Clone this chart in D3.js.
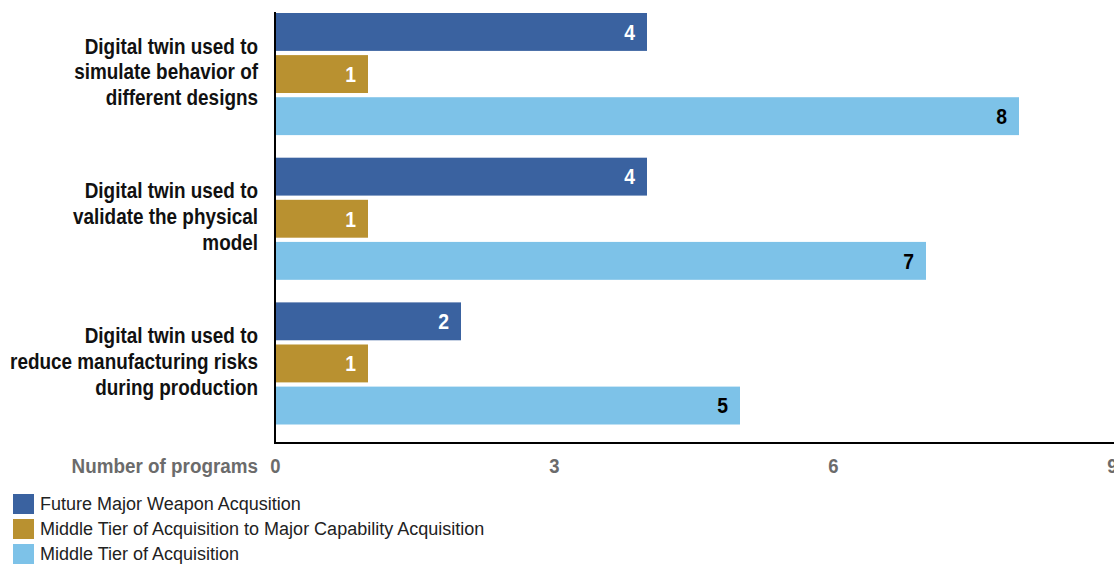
<!DOCTYPE html>
<html><head><meta charset="utf-8">
<script src="https://cdn.jsdelivr.net/npm/d3@7"></script>
<style>
body{margin:0;background:#fff;}
svg{display:block;}
</style></head>
<body>
<svg id="chart" width="1114" height="566"></svg>
<script>
const categories = [
  ["Digital twin used to","simulate behavior of","different designs"],
  ["Digital twin used to","validate the physical","model"],
  ["Digital twin used to","reduce manufacturing risks","during production"]
];
const seriesNames = ["Future Major Weapon Acqusition","Middle Tier of Acquisition to Major Capability Acquisition","Middle Tier of Acquisition"];
const seriesColors = ["#3a62a0","#b99130","#7dc2e8"];
const labelColors = ["#ffffff","#ffffff","#000000"];
const futureMajor = [4,4,2];
const mtaToMca = [1,1,1];
const mta = [8,7,5];
const xTicks = [0,3,6,9];
const axisTitle = "Number of programs";

const series = [futureMajor, mtaToMca, mta];
const svg = d3.select("#chart");
const sans = "'Liberation Sans',Arial,sans-serif";

const x = d3.scaleLinear().domain([0,9]).range([275,1112]);
const y0 = d3.scaleBand().domain(d3.range(categories.length)).range([13,424.5]).paddingInner(0.156).paddingOuter(0);
const y1 = d3.scaleBand().domain(d3.range(series.length)).range([0,y0.bandwidth()]).paddingInner(0.1).paddingOuter(0);

const groups = svg.selectAll("g.grp").data(categories).join("g")
  .attr("transform",(d,i)=>`translate(0,${y0(i)})`);

series.forEach((vals,s)=>{
  groups.append("rect")
    .attr("x",x(0)).attr("y",y1(s))
    .attr("width",(d,i)=>x(vals[i])-x(0))
    .attr("height",y1.bandwidth())
    .attr("fill",seriesColors[s]);
  groups.append("g")
    .attr("transform",(d,i)=>`translate(${x(vals[i])-12},${y1(s)+y1.bandwidth()/2}) scale(0.9,1)`)
    .append("text")
    .attr("dy","0.36em")
    .attr("text-anchor","end")
    .attr("font-family",sans).attr("font-weight","bold").attr("font-size",21.5)
    .attr("fill",labelColors[s])
    .text((d,i)=>vals[i]);
});

// category labels
groups.each(function(lines){
  const g = d3.select(this).append("g")
    .attr("transform",`translate(258,${y0.bandwidth()/2 - 2.5}) scale(0.86,1)`);
  const t = g.append("text")
    .attr("text-anchor","end")
    .attr("font-family",sans).attr("font-weight","bold").attr("font-size",22)
    .attr("fill","#111");
  lines.forEach((ln,k)=>{
    t.append("tspan").attr("x",0).attr("y",(k-1)*25.8).attr("dy","0.36em").text(ln);
  });
});

// axes frame
svg.append("line").attr("x1",x(0)).attr("x2",x(0)).attr("y1",12).attr("y2",443.5).attr("stroke","#000").attr("stroke-width",2);
svg.append("line").attr("x1",x(0)-1).attr("x2",1114).attr("y1",443).attr("y2",443).attr("stroke","#000").attr("stroke-width",2);

const xAxis = d3.axisBottom(x).tickValues(xTicks).tickSize(0).tickPadding(0);
const ax = svg.append("g").attr("transform","translate(0,458)").call(xAxis);
ax.select(".domain").remove();
ax.selectAll("text").attr("font-family",sans).attr("font-weight","bold").attr("font-size",20.5).attr("fill","#6b6b6b")
  .attr("dy","0.71em").attr("y",0).attr("transform","scale(0.9,1)");

svg.append("g").attr("transform","translate(258,466) scale(0.92,1)")
  .append("text").attr("dy","0.36em").attr("text-anchor","end")
  .attr("font-family",sans).attr("font-weight","bold").attr("font-size",20.5).attr("fill","#6b6b6b").text(axisTitle);

// legend
const lg = svg.append("g");
seriesNames.forEach((n,i)=>{
  lg.append("rect").attr("x",13).attr("y",494+i*25).attr("width",21).attr("height",20).attr("fill",seriesColors[i]);
  lg.append("text").attr("x",40).attr("y",504+i*25).attr("dy","0.36em")
    .attr("font-family",sans).attr("font-size",18).attr("fill","#222").text(n);
});
</script>
</body></html>
